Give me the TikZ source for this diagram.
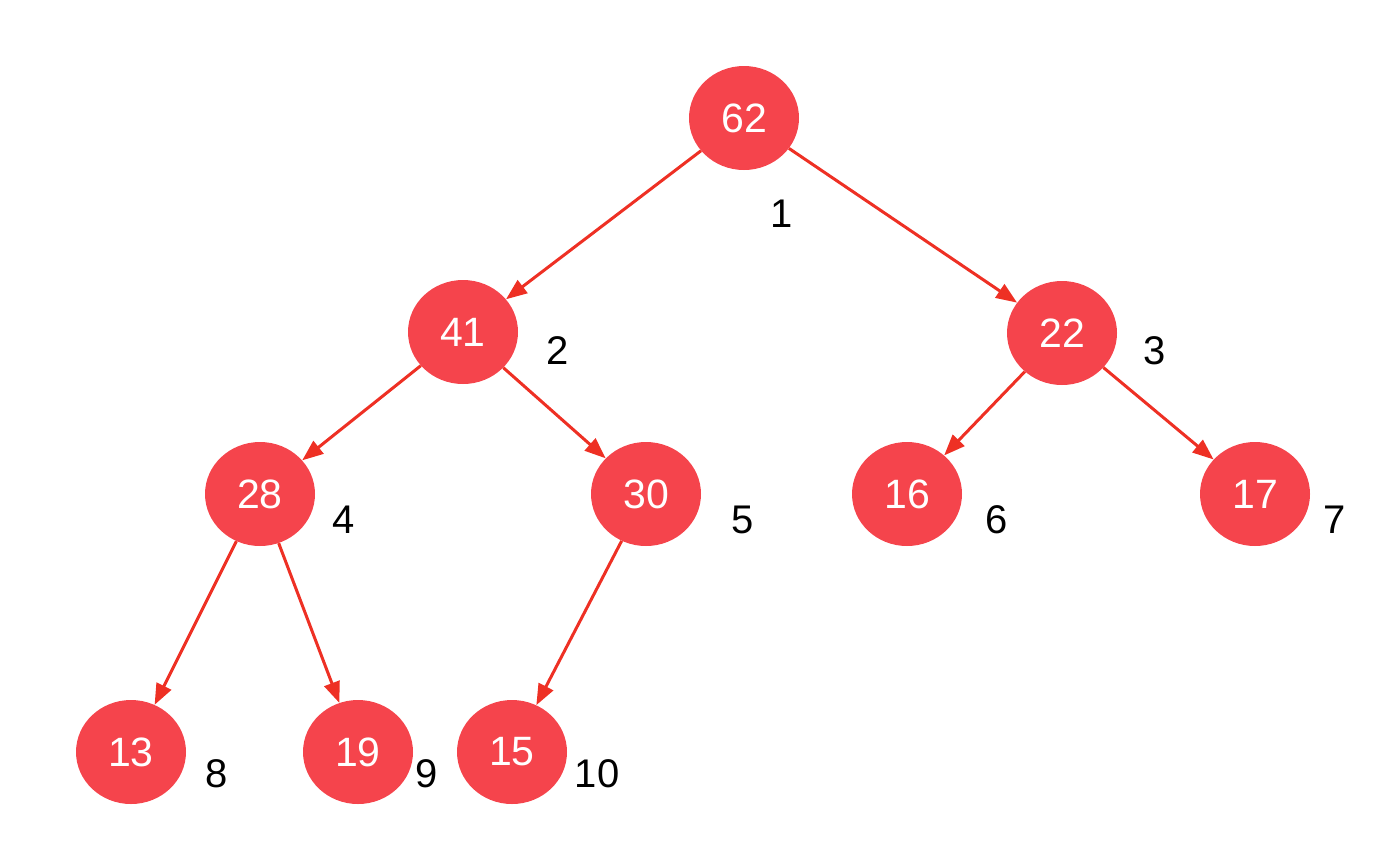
\documentclass[tikz,border=0pt]{standalone}
\usepackage{fontspec}
\setmainfont{Liberation Sans}
\usetikzlibrary{shapes.geometric,arrows.meta}
\definecolor{nodefill}{RGB}{245,68,76}
\definecolor{edgecol}{RGB}{238,48,36}
\tikzset{
  heapnode/.style={ellipse, fill=nodefill, draw=none, minimum width=110pt, minimum height=104pt, inner sep=0pt, text=white, font=\fontsize{41}{46}\selectfont},
  idxlabel/.style={text=black, inner sep=0pt, font=\fontsize{40}{46}\selectfont},
  arr/.style={draw=edgecol, line width=3pt, -{Triangle[length=21pt,width=16pt]}}
}
\begin{document}
\begin{tikzpicture}[x=1pt,y=-1pt]
\useasboundingbox (0,0) rectangle (1400,860);
\node[heapnode] (n62) at (744,118) {62};
\node[heapnode] (n41) at (463,332) {41};
\node[heapnode] (n22) at (1062,333) {22};
\node[heapnode] (n28) at (260,494) {28};
\node[heapnode] (n30) at (646,494) {30};
\node[heapnode] (n16) at (907,494) {16};
\node[heapnode] (n17) at (1255,494) {17};
\node[heapnode] (n13) at (131,752) {13};
\node[heapnode] (n19) at (358,752) {19};
\node[heapnode] (n15) at (512,752) {15};
\node[idxlabel] (l1) at (782,214) {1};
\node[idxlabel] (l2) at (558,351) {2};
\node[idxlabel] (l3) at (1155,351) {3};
\node[idxlabel] (l4) at (344,520) {4};
\node[idxlabel] (l5) at (743,520) {5};
\node[idxlabel] (l6) at (997,520) {6};
\node[idxlabel] (l7) at (1335,520) {7};
\node[idxlabel] (l8) at (217,774) {8};
\node[idxlabel] (l9) at (427,774) {9};
\node[idxlabel] (l10) at (597,774) {10};
\draw[arr] (n62) -- (n41);
\draw[arr] (n62) -- (n22);
\draw[arr] (n41) -- (n28);
\draw[arr] (n41) -- (n30);
\draw[arr] (n22) -- (n16);
\draw[arr] (n22) -- (n17);
\draw[arr] (n28) -- (n13);
\draw[arr] (n28) -- (n19);
\draw[arr] (n30) -- (n15);
\end{tikzpicture}
\end{document}
